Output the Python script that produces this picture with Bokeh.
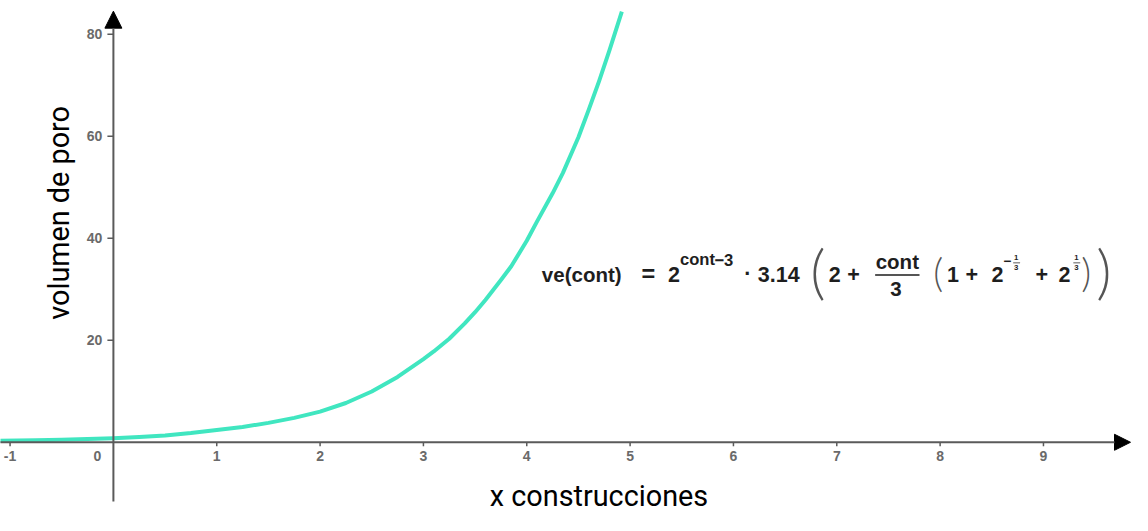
import math
from bokeh.plotting import figure
from bokeh.models import Arrow, NormalHead, Label, Range1d, BoxAnnotation
from bokeh.embed import file_html
from bokeh.resources import INLINE
from bokeh.core.properties import value

# ---------------- data ----------------
cont = [-1.1, -0.75, -0.5, -0.25, 0.0, 0.25, 0.5, 0.75, 1.0, 1.25, 1.5, 1.75,
        2.0, 2.25, 2.5, 2.75, 3.0, 3.1, 3.25, 3.4, 3.5, 3.6, 3.75, 3.85, 4.0,
        4.1, 4.25, 4.35, 4.5, 4.6, 4.7, 4.8, 4.92]
ve = [0.3, 0.4, 0.5, 0.63, 0.8, 1.05, 1.35, 1.8, 2.4, 3.0, 3.8, 4.78,
      6.0, 7.7, 9.95, 12.8, 16.3, 17.8, 20.3, 23.3, 25.5, 27.9, 31.8, 34.5, 39.5,
      43.3, 48.8, 52.8, 59.8, 65.2, 70.8, 76.8, 84.4]

x_ticks = [-1, 1, 2, 3, 4, 5, 6, 7, 8, 9]
x_tick_labels = ["-1", "1", "2", "3", "4", "5", "6", "7", "8", "9"]
zero_label = "0"
y_ticks = [20, 40, 60, 80]
y_tick_labels = ["20", "40", "60", "80"]
x_title = "x construcciones"
y_title = "volumen de poro"

# ---------------- layout ----------------
W, H = 1132, 515
REF_W, REF_H = 1148, 531
KX, KY = W / REF_W, H / REF_H          # reference-pixel -> canvas-pixel
KF = (KX + KY) / 2                      # font scale

# reference geometry: origin at (114.5, 455.5) px, 104.8 px per x unit, 5.26 px per y unit
OX, OY = 114.5 * KX, 455.5 * KY
PX, PY = 104.8 * KX, 5.26 * KY
X0, X1 = -OX / PX, (W - OX) / PX
Y1, Y0 = OY / PY, -(H - OY) / PY

p = figure(width=W, height=H, x_range=Range1d(X0, X1), y_range=Range1d(Y0, Y1),
           x_axis_type=None, y_axis_type=None, toolbar_location=None,
           output_backend="svg", min_border=0, outline_line_color=None,
           background_fill_color="white", border_fill_color="white")

AXIS_COL = "#5a5a5a"

def sx(rx):
    return rx * KX

def sy(ry):
    return H - ry * KY

# axes with arrow heads
p.add_layout(Arrow(x_start=X0 - 0.2, y_start=0, x_end=X1 - 2.0 / PX, y_end=0,
                   line_color=AXIS_COL, line_width=2,
                   end=NormalHead(size=16, fill_color="black", line_color="black")))
p.add_layout(Arrow(x_start=0, y_start=Y0 + 14.0 / PY, x_end=0, y_end=Y1 - 11.0 * KY / PY,
                   line_color=AXIS_COL, line_width=2,
                   end=NormalHead(size=17, fill_color="black", line_color="black")))

# tick marks
p.segment(x0=x_ticks, y0=[0] * len(x_ticks), x1=x_ticks, y1=[-4.0 / PY] * len(x_ticks),
          line_color=AXIS_COL, line_width=1.5)
p.segment(x0=[-6.0 / PX] * len(y_ticks), y0=y_ticks, x1=[0] * len(y_ticks), y1=y_ticks,
          line_color=AXIS_COL, line_width=1.5)

# tick labels
TICK_COL = "#6a6a6a"
TFS = "14px"
p.text(x=x_ticks, y=[0] * len(x_ticks), text=x_tick_labels, y_offset=9,
       text_align="center", text_baseline="top", text_font=value("Liberation Sans"),
       text_font_size=TFS, text_font_style="bold", text_color=TICK_COL)
p.text(x=[0], y=[0], text=[zero_label], x_offset=-16, y_offset=9,
       text_align="center", text_baseline="top", text_font=value("Liberation Sans"),
       text_font_size=TFS, text_font_style="bold", text_color=TICK_COL)
p.text(x=[0] * len(y_ticks), y=y_ticks, text=y_tick_labels, x_offset=-11,
       text_align="right", text_baseline="middle", text_font=value("Liberation Sans"),
       text_font_size=TFS, text_font_style="bold", text_color=TICK_COL)

# curve
p.line(cont, ve, line_color="#40E6C0", line_width=4, line_join="round")

# ---------------- titles ----------------
TITLE_FS = 29.5
p.add_layout(Label(x=sx(607), y=sy(522 - 0.36 * TITLE_FS), x_units="screen", y_units="screen",
                   text=x_title, text_align="center", text_baseline="middle",
                   text_font="Roboto", text_font_size=f"{TITLE_FS * KF:.1f}px",
                   text_color="black"))
p.add_layout(Label(x=sx(70 - 0.36 * TITLE_FS), y=sy(219), x_units="screen", y_units="screen",
                   text=y_title, angle=math.pi / 2, text_align="center",
                   text_baseline="middle",
                   text_font="Roboto", text_font_size=f"{TITLE_FS * KF:.1f}px",
                   text_color="black"))

# ---------------- formula ----------------
F_COL = "#1e1e1e"
P_COL = "#555555"
pieces = [
    # text, ref_x, ref_baseline, size, bold, align, color
    ("ve(cont)", 549, 290, 21, True, "left", F_COL),
    ("=", 657, 290, 24, True, "center", F_COL),
    ("2", 677, 290, 22, True, "left", F_COL),
    ("cont", 689, 273, 17, True, "left", F_COL),
    ("\u22123", 724, 273, 17, True, "left", F_COL),
    ("\u00b7", 758, 290, 22, True, "center", F_COL),
    ("3.14", 768, 290, 22, True, "left", F_COL),
    ("2", 840, 290, 22, True, "left", F_COL),
    ("+", 865, 290, 22, True, "center", F_COL),
    ("cont", 909.5, 276, 21, True, "center", F_COL),
    ("3", 908, 305, 21, True, "center", F_COL),
    ("1", 960, 290, 22, True, "left", F_COL),
    ("+", 985, 290, 22, True, "center", F_COL),
    ("2", 1005, 290, 22, True, "left", F_COL),
    ("\u2212", 1017, 274, 14, True, "left", F_COL),
    ("1", 1030, 268, 8, True, "center", F_COL),
    ("3", 1030, 278, 8, True, "center", F_COL),
    ("+", 1056, 290, 22, True, "center", F_COL),
    ("2", 1073, 290, 22, True, "left", F_COL),
    ("1", 1091, 268, 8, True, "center", F_COL),
    ("3", 1091, 278, 8, True, "center", F_COL),
]
for t, rx, ry, fs, bold, al, col in pieces:
    p.add_layout(Label(x=sx(rx), y=sy(ry - 0.35 * fs), x_units="screen", y_units="screen",
                       text=t, text_align=al, text_baseline="middle",
                       text_font="Liberation Sans", text_font_size=f"{fs * KF:.1f}px",
                       text_font_style="bold" if bold else "normal",
                       text_color=col))

# stretched delimiters: text, ref_x (ink centre), ref_top, ref_bottom
delims = [("(", 829, 255, 312), ("(", 951, 265, 302), (")", 1101, 265, 302), (")", 1119, 255, 312)]
for t, rx, top, bot in delims:
    fs = (bot - top) / 0.94
    centre = (top + bot) / 2
    p.add_layout(Label(x=sx(rx), y=sy(centre - 0.09 * fs), x_units="screen", y_units="screen",
                       text=t, text_align="center", text_baseline="middle",
                       text_font="Lato Light", text_font_size=f"{fs * KF:.1f}px",
                       text_color=P_COL))

# fraction bars
for l, r, yy, th in [(887, 932, 283, 2), (1027, 1034, 270.5, 1), (1088, 1095, 270.5, 1)]:
    p.add_layout(BoxAnnotation(left=sx(l), right=sx(r), top=sy(yy - th / 2), bottom=sy(yy + th / 2),
                               left_units="screen", right_units="screen",
                               top_units="screen", bottom_units="screen",
                               fill_color="#555555", fill_alpha=1.0, line_color=None))

open("out.html", "w").write(file_html(p, INLINE))
